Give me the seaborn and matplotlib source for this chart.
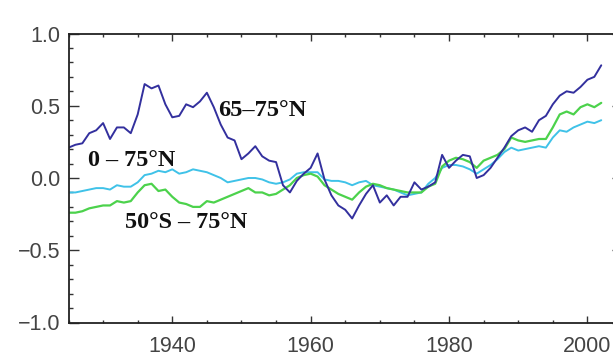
import numpy as np
import pandas as pd
import seaborn as sns
import matplotlib.pyplot as plt
from matplotlib.ticker import MultipleLocator

# --- Data ---
years = list(range(1925, 2003))

arctic = [  # 65-75N
    0.21, 0.23, 0.24, 0.31, 0.33, 0.38, 0.27, 0.35, 0.35, 0.31,
    0.44, 0.65, 0.62, 0.64, 0.51, 0.42, 0.43, 0.51, 0.49, 0.53,
    0.59, 0.49, 0.37, 0.28, 0.26, 0.13, 0.17, 0.22, 0.15, 0.12,
    0.11, -0.05, -0.10, -0.02, 0.03, 0.07, 0.17, -0.01, -0.12, -0.19,
    -0.22, -0.28, -0.19, -0.11, -0.05, -0.17, -0.12, -0.19, -0.13, -0.13,
    -0.03, -0.08, -0.06, -0.03, 0.16, 0.07, 0.12, 0.16, 0.15, 0.00,
    0.02, 0.07, 0.14, 0.21, 0.29, 0.33, 0.35, 0.32, 0.40, 0.43,
    0.51, 0.57, 0.60, 0.59, 0.63, 0.68, 0.70, 0.78,
]
north = [  # 0-75N
    -0.10, -0.10, -0.09, -0.08, -0.07, -0.07, -0.08, -0.05, -0.06, -0.06,
    -0.03, 0.02, 0.03, 0.05, 0.04, 0.06, 0.03, 0.04, 0.06, 0.05,
    0.04, 0.02, 0.00, -0.03, -0.02, -0.01, 0.00, 0.00, -0.01, -0.03,
    -0.04, -0.03, -0.01, 0.03, 0.04, 0.04, 0.04, -0.01, -0.02, -0.02,
    -0.03, -0.05, -0.03, -0.02, -0.05, -0.06, -0.07, -0.08, -0.10, -0.12,
    -0.11, -0.10, -0.04, 0.00, 0.07, 0.09, 0.09, 0.08, 0.06, 0.03,
    0.06, 0.09, 0.13, 0.18, 0.21, 0.19, 0.20, 0.21, 0.22, 0.21,
    0.28, 0.33, 0.32, 0.35, 0.37, 0.39, 0.38, 0.40,
]
broad = [  # 50S-75N
    -0.24, -0.24, -0.23, -0.21, -0.20, -0.19, -0.19, -0.16, -0.17, -0.16,
    -0.10, -0.05, -0.04, -0.09, -0.08, -0.13, -0.17, -0.18, -0.20, -0.20,
    -0.16, -0.17, -0.15, -0.13, -0.11, -0.09, -0.07, -0.10, -0.10, -0.12,
    -0.11, -0.08, -0.05, 0.00, 0.02, 0.03, 0.01, -0.05, -0.08, -0.11,
    -0.13, -0.15, -0.10, -0.06, -0.04, -0.05, -0.07, -0.08, -0.09, -0.10,
    -0.10, -0.10, -0.06, -0.04, 0.08, 0.12, 0.14, 0.13, 0.11, 0.07,
    0.12, 0.14, 0.16, 0.20, 0.28, 0.26, 0.25, 0.26, 0.27, 0.27,
    0.35, 0.44, 0.46, 0.44, 0.49, 0.51, 0.49, 0.52,
]

df = pd.DataFrame({"year": years, "arctic": arctic, "north": north, "broad": broad})

# --- Plot ---
sns.set_style("ticks")
plt.rcParams["font.family"] = ["Liberation Sans", "DejaVu Sans"]

fig = plt.figure(figsize=(6.13, 3.56), dpi=100)
ax = fig.add_axes([68.5 / 613, 33.5 / 356, (622 - 68.5) / 613, (322.5 - 33.5) / 356])

sns.lineplot(data=df, x="year", y="north", ax=ax, color="#3fc2e8", linewidth=1.4)
sns.lineplot(data=df, x="year", y="broad", ax=ax, color="#4cd24c", linewidth=1.6)
sns.lineplot(data=df, x="year", y="arctic", ax=ax, color="#33309e", linewidth=1.4)

ax.set_xlim(1925, 2005)
ax.set_ylim(-1.0, 1.0)
ax.xaxis.set_minor_locator(MultipleLocator(5))
ax.yaxis.set_minor_locator(MultipleLocator(0.1))
ax.set_xticks([1940, 1960, 1980, 2000])
ax.set_yticks([-1.0, -0.5, 0.0, 0.5, 1.0])
ax.set_yticklabels(["\u22121.0", "\u22120.5", "0.0", "0.5", "1.0"])
ax.set_xlabel("")
ax.set_ylabel("")

ax.tick_params(axis="both", which="both", direction="in", top=True, right=True,
               colors="#333333", labelcolor="#444444", labelsize=15.5, width=1.0)
ax.tick_params(axis="x", which="major", length=5, pad=10)
ax.tick_params(axis="x", which="minor", length=2.5)
ax.tick_params(axis="y", which="major", length=7.5, pad=6)
ax.tick_params(axis="y", which="minor", length=3)
for s in ax.spines.values():
    s.set_color("#222222")
    s.set_linewidth(1.3)

lab = dict(fontfamily="Liberation Serif", fontweight="bold", color="#111111",
           ha="left", va="center")
ax.text(1946.6, 0.47, "65\u201375\u00b0N", fontsize=17.6, **lab)
ax.text(1927.8, 0.12, "0 \u2013 75\u00b0N", fontsize=17.4, **lab)
ax.text(1933.1, -0.31, "50\u00b0S \u2013 75\u00b0N", fontsize=17.4, **lab)

fig.savefig("out.png", dpi=100)
